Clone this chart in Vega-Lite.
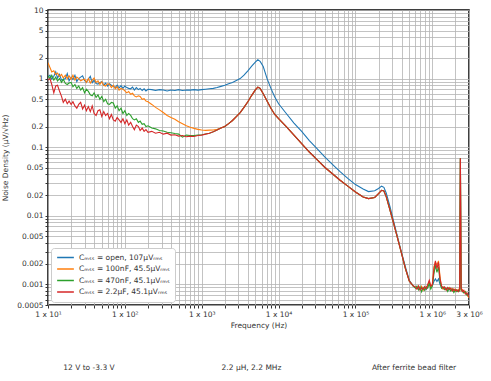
{
"$schema":"https://vega.github.io/schema/vega-lite/v6.json",
"width":421,"height":295,
"autosize":{"type":"none"},
"padding":{"left":48,"top":10,"right":22,"bottom":76},
"config":{"font":"DejaVu Sans","view":{"stroke":"black","strokeWidth":1.5}},
"datasets":{
"d":[
{"f":10,"v":1.05,"s":"o"},{"f":10.6,"v":1.12,"s":"o"},{"f":11.2,"v":0.98,"s":"o"},{"f":11.9,"v":1.08,"s":"o"},{"f":12.6,"v":1.25,"s":"o"},{"f":13.3,"v":1.02,"s":"o"},{"f":14.1,"v":1.15,"s":"o"},{"f":15,"v":0.95,"s":"o"},{"f":15.8,"v":0.97,"s":"o"},{"f":16.8,"v":1.0,"s":"o"},{"f":17.8,"v":1.18,"s":"o"},{"f":18.8,"v":0.93,"s":"o"},{"f":20,"v":1.05,"s":"o"},{"f":21.1,"v":0.97,"s":"o"},{"f":22.4,"v":1.12,"s":"o"},{"f":23.7,"v":0.9,"s":"o"},{"f":25.1,"v":1.0,"s":"o"},{"f":26.6,"v":1.05,"s":"o"},{"f":28.2,"v":1.1,"s":"o"},{"f":29.9,"v":0.94,"s":"o"},{"f":31.6,"v":0.88,"s":"o"},{"f":33.5,"v":0.98,"s":"o"},{"f":35.5,"v":1.08,"s":"o"},{"f":37.6,"v":0.87,"s":"o"},{"f":39.8,"v":0.95,"s":"o"},{"f":42.2,"v":0.85,"s":"o"},{"f":44.7,"v":0.83,"s":"o"},{"f":47.3,"v":0.88,"s":"o"},{"f":50.1,"v":0.9,"s":"o"},{"f":53.1,"v":0.8,"s":"o"},{"f":56.2,"v":0.86,"s":"o"},{"f":59.6,"v":0.78,"s":"o"},{"f":63.1,"v":0.84,"s":"o"},{"f":66.8,"v":0.8,"s":"o"},{"f":70.8,"v":0.77,"s":"o"},{"f":75,"v":0.74,"s":"o"},{"f":79.4,"v":0.8,"s":"o"},{"f":84.1,"v":0.73,"s":"o"},{"f":89.1,"v":0.79,"s":"o"},{"f":94.4,"v":0.72,"s":"o"},{"f":100,"v":0.78,"s":"o"},{"f":106,"v":0.74,"s":"o"},{"f":112,"v":0.72,"s":"o"},{"f":119,"v":0.71,"s":"o"},{"f":126,"v":0.75,"s":"o"},{"f":133,"v":0.68,"s":"o"},{"f":141,"v":0.74,"s":"o"},{"f":150,"v":0.69,"s":"o"},{"f":158,"v":0.72,"s":"o"},{"f":168,"v":0.67,"s":"o"},{"f":178,"v":0.71,"s":"o"},{"f":188,"v":0.66,"s":"o"},{"f":200,"v":0.7,"s":"o"},
{"f":224,"v":0.69,"s":"o"},{"f":251,"v":0.67,"s":"o"},{"f":282,"v":0.69,"s":"o"},{"f":316,"v":0.68,"s":"o"},{"f":355,"v":0.66,"s":"o"},{"f":398,"v":0.68,"s":"o"},{"f":447,"v":0.67,"s":"o"},{"f":501,"v":0.69,"s":"o"},{"f":562,"v":0.67,"s":"o"},{"f":631,"v":0.68,"s":"o"},{"f":708,"v":0.68,"s":"o"},{"f":794,"v":0.69,"s":"o"},{"f":891,"v":0.68,"s":"o"},{"f":1000,"v":0.69,"s":"o"},{"f":1122,"v":0.7,"s":"o"},{"f":1259,"v":0.71,"s":"o"},{"f":1413,"v":0.72,"s":"o"},{"f":1585,"v":0.74,"s":"o"},{"f":1778,"v":0.77,"s":"o"},{"f":1995,"v":0.8,"s":"o"},
{"f":2239,"v":0.84,"s":"o"},{"f":2512,"v":0.88,"s":"o"},{"f":2818,"v":0.94,"s":"o"},{"f":3162,"v":1.0,"s":"o"},{"f":3548,"v":1.12,"s":"o"},{"f":3981,"v":1.3,"s":"o"},{"f":4467,"v":1.52,"s":"o"},{"f":5012,"v":1.75,"s":"o"},{"f":5370,"v":1.88,"s":"o"},{"f":5754,"v":1.78,"s":"o"},{"f":6310,"v":1.5,"s":"o"},{"f":7079,"v":1.0,"s":"o"},{"f":7943,"v":0.72,"s":"o"},{"f":8913,"v":0.54,"s":"o"},{"f":10000,"v":0.43,"s":"o"},{"f":12589,"v":0.31,"s":"o"},{"f":15849,"v":0.225,"s":"o"},{"f":19953,"v":0.17,"s":"o"},{"f":25119,"v":0.125,"s":"o"},{"f":31623,"v":0.095,"s":"o"},{"f":39811,"v":0.072,"s":"o"},{"f":50119,"v":0.056,"s":"o"},{"f":63096,"v":0.044,"s":"o"},{"f":79433,"v":0.035,"s":"o"},{"f":100000,"v":0.0285,"s":"o"},{"f":125893,"v":0.0245,"s":"o"},{"f":147911,"v":0.0225,"s":"o"},{"f":177828,"v":0.0232,"s":"o"},{"f":199526,"v":0.025,"s":"o"},{"f":218776,"v":0.027,"s":"o"},{"f":234423,"v":0.026,"s":"o"},{"f":251189,"v":0.0215,"s":"o"},{"f":281838,"v":0.0135,"s":"o"},{"f":316228,"v":0.008,"s":"o"},{"f":354813,"v":0.0048,"s":"o"},{"f":398107,"v":0.0029,"s":"o"},{"f":446684,"v":0.0018,"s":"o"},{"f":501187,"v":0.00115,"s":"o"},{"f":562341,"v":0.00095,"s":"o"},
{"f":602560,"v":0.0009,"s":"o"},{"f":630957,"v":0.00087,"s":"o"},{"f":660693,"v":0.0009,"s":"o"},{"f":691831,"v":0.00085,"s":"o"},{"f":724436,"v":0.00088,"s":"o"},{"f":758578,"v":0.00086,"s":"o"},{"f":794328,"v":0.0009,"s":"o"},{"f":831764,"v":0.00084,"s":"o"},{"f":870964,"v":0.00094,"s":"o"},{"f":912011,"v":0.001,"s":"o"},{"f":954993,"v":0.00092,"s":"o"},{"f":1000000,"v":0.00095,"s":"o"},{"f":1047129,"v":0.0011,"s":"o"},{"f":1096478,"v":0.0012,"s":"o"},{"f":1148154,"v":0.0011,"s":"o"},{"f":1202264,"v":0.0012,"s":"o"},{"f":1258925,"v":0.001,"s":"o"},{"f":1318257,"v":0.0009,"s":"o"},{"f":1380384,"v":0.00086,"s":"o"},{"f":1445440,"v":0.0009,"s":"o"},{"f":1513561,"v":0.00084,"s":"o"},{"f":1584893,"v":0.00087,"s":"o"},{"f":1659587,"v":0.00083,"s":"o"},{"f":1737801,"v":0.00086,"s":"o"},{"f":1819701,"v":0.00082,"s":"o"},{"f":1905461,"v":0.00084,"s":"o"},{"f":1995262,"v":0.00081,"s":"o"},{"f":2089296,"v":0.00082,"s":"o"},{"f":2187762,"v":0.0008,"s":"o"},{"f":2264644,"v":0.00083,"s":"o"},{"f":2317395,"v":0.069,"s":"o"},{"f":2371374,"v":0.00084,"s":"o"},{"f":2454709,"v":0.0008,"s":"o"},{"f":2570396,"v":0.00078,"s":"o"},{"f":2691535,"v":0.00075,"s":"o"},{"f":2818383,"v":0.00072,"s":"o"},{"f":3000000,"v":0.00065,"s":"o"},

{"f":10,"v":1.7,"s":"a"},{"f":10.6,"v":1.45,"s":"a"},{"f":11.2,"v":1.25,"s":"a"},{"f":11.9,"v":1.3,"s":"a"},{"f":12.6,"v":1.15,"s":"a"},{"f":13.3,"v":1.2,"s":"a"},{"f":14.1,"v":1.08,"s":"a"},{"f":15,"v":1.15,"s":"a"},{"f":15.8,"v":1.02,"s":"a"},{"f":16.8,"v":1.12,"s":"a"},{"f":17.8,"v":1.0,"s":"a"},{"f":18.8,"v":1.1,"s":"a"},{"f":20,"v":0.98,"s":"a"},{"f":21.1,"v":1.12,"s":"a"},{"f":22.4,"v":0.95,"s":"a"},{"f":23.7,"v":1.05,"s":"a"},{"f":25.1,"v":1.0,"s":"a"},{"f":26.6,"v":0.93,"s":"a"},{"f":28.2,"v":0.96,"s":"a"},{"f":29.9,"v":0.98,"s":"a"},{"f":31.6,"v":0.88,"s":"a"},{"f":33.5,"v":1.0,"s":"a"},{"f":35.5,"v":0.86,"s":"a"},{"f":37.6,"v":0.95,"s":"a"},{"f":39.8,"v":1.02,"s":"a"},{"f":42.2,"v":0.88,"s":"a"},{"f":44.7,"v":0.93,"s":"a"},{"f":47.3,"v":0.82,"s":"a"},{"f":50.1,"v":0.9,"s":"a"},{"f":53.1,"v":0.8,"s":"a"},{"f":56.2,"v":0.78,"s":"a"},{"f":59.6,"v":0.84,"s":"a"},{"f":63.1,"v":0.83,"s":"a"},{"f":66.8,"v":0.74,"s":"a"},{"f":70.8,"v":0.8,"s":"a"},{"f":75,"v":0.71,"s":"a"},{"f":79.4,"v":0.76,"s":"a"},{"f":84.1,"v":0.68,"s":"a"},{"f":89.1,"v":0.72,"s":"a"},{"f":94.4,"v":0.7,"s":"a"},{"f":100,"v":0.66,"s":"a"},{"f":106,"v":0.62,"s":"a"},{"f":112,"v":0.65,"s":"a"},{"f":119,"v":0.59,"s":"a"},{"f":126,"v":0.61,"s":"a"},{"f":133,"v":0.56,"s":"a"},{"f":141,"v":0.54,"s":"a"},{"f":150,"v":0.56,"s":"a"},{"f":158,"v":0.55,"s":"a"},{"f":168,"v":0.5,"s":"a"},{"f":178,"v":0.51,"s":"a"},{"f":188,"v":0.47,"s":"a"},{"f":200,"v":0.46,"s":"a"},
{"f":224,"v":0.42,"s":"a"},{"f":251,"v":0.38,"s":"a"},{"f":282,"v":0.35,"s":"a"},{"f":316,"v":0.32,"s":"a"},{"f":355,"v":0.29,"s":"a"},{"f":398,"v":0.27,"s":"a"},{"f":447,"v":0.255,"s":"a"},{"f":501,"v":0.235,"s":"a"},{"f":562,"v":0.22,"s":"a"},{"f":631,"v":0.205,"s":"a"},{"f":708,"v":0.195,"s":"a"},{"f":794,"v":0.188,"s":"a"},{"f":891,"v":0.182,"s":"a"},{"f":1000,"v":0.178,"s":"a"},{"f":1122,"v":0.176,"s":"a"},{"f":1259,"v":0.177,"s":"a"},{"f":1413,"v":0.178,"s":"a"},{"f":1585,"v":0.182,"s":"a"},{"f":1778,"v":0.19,"s":"a"},{"f":1995,"v":0.2,"s":"a"},
{"f":2239,"v":0.22,"s":"a"},{"f":2512,"v":0.245,"s":"a"},{"f":2818,"v":0.28,"s":"a"},{"f":3162,"v":0.32,"s":"a"},{"f":3548,"v":0.38,"s":"a"},{"f":3981,"v":0.46,"s":"a"},{"f":4467,"v":0.57,"s":"a"},{"f":5012,"v":0.69,"s":"a"},{"f":5370,"v":0.75,"s":"a"},{"f":5754,"v":0.72,"s":"a"},{"f":6310,"v":0.6,"s":"a"},{"f":7079,"v":0.47,"s":"a"},{"f":7943,"v":0.37,"s":"a"},{"f":8913,"v":0.3,"s":"a"},{"f":10000,"v":0.26,"s":"a"},{"f":12589,"v":0.2,"s":"a"},{"f":15849,"v":0.15,"s":"a"},{"f":19953,"v":0.113,"s":"a"},{"f":25119,"v":0.085,"s":"a"},{"f":31623,"v":0.066,"s":"a"},{"f":39811,"v":0.051,"s":"a"},{"f":50119,"v":0.041,"s":"a"},{"f":63096,"v":0.033,"s":"a"},{"f":79433,"v":0.027,"s":"a"},{"f":100000,"v":0.0222,"s":"a"},{"f":125893,"v":0.0188,"s":"a"},{"f":147911,"v":0.0178,"s":"a"},{"f":177828,"v":0.0185,"s":"a"},{"f":199526,"v":0.021,"s":"a"},{"f":218776,"v":0.0235,"s":"a"},{"f":234423,"v":0.023,"s":"a"},{"f":251189,"v":0.019,"s":"a"},{"f":281838,"v":0.012,"s":"a"},{"f":316228,"v":0.0075,"s":"a"},{"f":354813,"v":0.0046,"s":"a"},{"f":398107,"v":0.0028,"s":"a"},{"f":446684,"v":0.0017,"s":"a"},{"f":501187,"v":0.00112,"s":"a"},{"f":562341,"v":0.00095,"s":"a"},
{"f":602560,"v":0.0009,"s":"a"},{"f":630957,"v":0.00088,"s":"a"},{"f":660693,"v":0.00092,"s":"a"},{"f":691831,"v":0.00086,"s":"a"},{"f":724436,"v":0.00094,"s":"a"},{"f":758578,"v":0.00082,"s":"a"},{"f":794328,"v":0.00088,"s":"a"},{"f":831764,"v":0.0009,"s":"a"},{"f":870964,"v":0.00095,"s":"a"},{"f":912011,"v":0.0011,"s":"a"},{"f":954993,"v":0.0009,"s":"a"},{"f":1000000,"v":0.001,"s":"a"},{"f":1047129,"v":0.0018,"s":"a"},{"f":1096478,"v":0.0021,"s":"a"},{"f":1148154,"v":0.0019,"s":"a"},{"f":1202264,"v":0.0022,"s":"a"},{"f":1258925,"v":0.0013,"s":"a"},{"f":1318257,"v":0.0009,"s":"a"},{"f":1380384,"v":0.00085,"s":"a"},{"f":1445440,"v":0.0009,"s":"a"},{"f":1513561,"v":0.00086,"s":"a"},{"f":1584893,"v":0.00083,"s":"a"},{"f":1659587,"v":0.0009,"s":"a"},{"f":1737801,"v":0.00082,"s":"a"},{"f":1819701,"v":0.00087,"s":"a"},{"f":1905461,"v":0.0008,"s":"a"},{"f":1995262,"v":0.00085,"s":"a"},{"f":2089296,"v":0.00079,"s":"a"},{"f":2187762,"v":0.00083,"s":"a"},{"f":2264644,"v":0.00088,"s":"a"},{"f":2317395,"v":0.069,"s":"a"},{"f":2371374,"v":0.00082,"s":"a"},{"f":2454709,"v":0.00084,"s":"a"},{"f":2570396,"v":0.00076,"s":"a"},{"f":2691535,"v":0.00079,"s":"a"},{"f":2818383,"v":0.0007,"s":"a"},{"f":3000000,"v":0.00064,"s":"a"},

{"f":10,"v":1.1,"s":"b"},{"f":10.6,"v":1.0,"s":"b"},{"f":11.2,"v":1.12,"s":"b"},{"f":11.9,"v":0.95,"s":"b"},{"f":12.6,"v":1.05,"s":"b"},{"f":13.3,"v":0.92,"s":"b"},{"f":14.1,"v":1.0,"s":"b"},{"f":15,"v":0.88,"s":"b"},{"f":15.8,"v":0.98,"s":"b"},{"f":16.8,"v":0.85,"s":"b"},{"f":17.8,"v":0.82,"s":"b"},{"f":18.8,"v":0.86,"s":"b"},{"f":20,"v":0.88,"s":"b"},{"f":21.1,"v":0.76,"s":"b"},{"f":22.4,"v":0.82,"s":"b"},{"f":23.7,"v":0.72,"s":"b"},{"f":25.1,"v":0.78,"s":"b"},{"f":26.6,"v":0.68,"s":"b"},{"f":28.2,"v":0.74,"s":"b"},{"f":29.9,"v":0.62,"s":"b"},{"f":31.6,"v":0.7,"s":"b"},{"f":33.5,"v":0.65,"s":"b"},{"f":35.5,"v":0.58,"s":"b"},{"f":37.6,"v":0.56,"s":"b"},{"f":39.8,"v":0.62,"s":"b"},{"f":42.2,"v":0.53,"s":"b"},{"f":44.7,"v":0.58,"s":"b"},{"f":47.3,"v":0.5,"s":"b"},{"f":50.1,"v":0.55,"s":"b"},{"f":53.1,"v":0.46,"s":"b"},{"f":56.2,"v":0.5,"s":"b"},{"f":59.6,"v":0.43,"s":"b"},{"f":63.1,"v":0.42,"s":"b"},{"f":66.8,"v":0.45,"s":"b"},{"f":70.8,"v":0.44,"s":"b"},{"f":75,"v":0.37,"s":"b"},{"f":79.4,"v":0.4,"s":"b"},{"f":84.1,"v":0.34,"s":"b"},{"f":89.1,"v":0.37,"s":"b"},{"f":94.4,"v":0.31,"s":"b"},{"f":100,"v":0.34,"s":"b"},{"f":106,"v":0.29,"s":"b"},{"f":112,"v":0.31,"s":"b"},{"f":119,"v":0.29,"s":"b"},{"f":126,"v":0.26,"s":"b"},{"f":133,"v":0.25,"s":"b"},{"f":141,"v":0.26,"s":"b"},{"f":150,"v":0.23,"s":"b"},{"f":158,"v":0.24,"s":"b"},{"f":168,"v":0.215,"s":"b"},{"f":178,"v":0.22,"s":"b"},{"f":188,"v":0.2,"s":"b"},{"f":200,"v":0.205,"s":"b"},
{"f":224,"v":0.19,"s":"b"},{"f":251,"v":0.185,"s":"b"},{"f":282,"v":0.175,"s":"b"},{"f":316,"v":0.172,"s":"b"},{"f":355,"v":0.165,"s":"b"},{"f":398,"v":0.162,"s":"b"},{"f":447,"v":0.158,"s":"b"},{"f":501,"v":0.155,"s":"b"},{"f":562,"v":0.14,"s":"b"},{"f":631,"v":0.15,"s":"b"},{"f":708,"v":0.148,"s":"b"},{"f":794,"v":0.148,"s":"b"},{"f":891,"v":0.15,"s":"b"},{"f":1000,"v":0.152,"s":"b"},{"f":1122,"v":0.156,"s":"b"},{"f":1259,"v":0.16,"s":"b"},{"f":1413,"v":0.168,"s":"b"},{"f":1585,"v":0.178,"s":"b"},{"f":1778,"v":0.19,"s":"b"},{"f":1995,"v":0.2,"s":"b"},
{"f":2239,"v":0.22,"s":"b"},{"f":2512,"v":0.245,"s":"b"},{"f":2818,"v":0.28,"s":"b"},{"f":3162,"v":0.32,"s":"b"},{"f":3548,"v":0.38,"s":"b"},{"f":3981,"v":0.46,"s":"b"},{"f":4467,"v":0.57,"s":"b"},{"f":5012,"v":0.69,"s":"b"},{"f":5370,"v":0.75,"s":"b"},{"f":5754,"v":0.72,"s":"b"},{"f":6310,"v":0.6,"s":"b"},{"f":7079,"v":0.47,"s":"b"},{"f":7943,"v":0.37,"s":"b"},{"f":8913,"v":0.3,"s":"b"},{"f":10000,"v":0.26,"s":"b"},{"f":12589,"v":0.2,"s":"b"},{"f":15849,"v":0.15,"s":"b"},{"f":19953,"v":0.113,"s":"b"},{"f":25119,"v":0.085,"s":"b"},{"f":31623,"v":0.066,"s":"b"},{"f":39811,"v":0.051,"s":"b"},{"f":50119,"v":0.041,"s":"b"},{"f":63096,"v":0.033,"s":"b"},{"f":79433,"v":0.027,"s":"b"},{"f":100000,"v":0.0222,"s":"b"},{"f":125893,"v":0.0188,"s":"b"},{"f":147911,"v":0.0178,"s":"b"},{"f":177828,"v":0.0185,"s":"b"},{"f":199526,"v":0.021,"s":"b"},{"f":218776,"v":0.0235,"s":"b"},{"f":234423,"v":0.023,"s":"b"},{"f":251189,"v":0.019,"s":"b"},{"f":281838,"v":0.012,"s":"b"},{"f":316228,"v":0.0075,"s":"b"},{"f":354813,"v":0.0046,"s":"b"},{"f":398107,"v":0.0028,"s":"b"},{"f":446684,"v":0.0017,"s":"b"},{"f":501187,"v":0.00112,"s":"b"},{"f":562341,"v":0.00095,"s":"b"},
{"f":602560,"v":0.00088,"s":"b"},{"f":630957,"v":0.00094,"s":"b"},{"f":660693,"v":0.00083,"s":"b"},{"f":691831,"v":0.00092,"s":"b"},{"f":724436,"v":0.00078,"s":"b"},{"f":758578,"v":0.0009,"s":"b"},{"f":794328,"v":0.00082,"s":"b"},{"f":831764,"v":0.00092,"s":"b"},{"f":870964,"v":0.00088,"s":"b"},{"f":912011,"v":0.00105,"s":"b"},{"f":954993,"v":0.00085,"s":"b"},{"f":1000000,"v":0.00095,"s":"b"},{"f":1047129,"v":0.0014,"s":"b"},{"f":1096478,"v":0.0019,"s":"b"},{"f":1148154,"v":0.0015,"s":"b"},{"f":1202264,"v":0.0018,"s":"b"},{"f":1258925,"v":0.0011,"s":"b"},{"f":1318257,"v":0.00088,"s":"b"},{"f":1380384,"v":0.00092,"s":"b"},{"f":1445440,"v":0.00084,"s":"b"},{"f":1513561,"v":0.00088,"s":"b"},{"f":1584893,"v":0.00079,"s":"b"},{"f":1659587,"v":0.00088,"s":"b"},{"f":1737801,"v":0.0008,"s":"b"},{"f":1819701,"v":0.00085,"s":"b"},{"f":1905461,"v":0.00076,"s":"b"},{"f":1995262,"v":0.00083,"s":"b"},{"f":2089296,"v":0.00078,"s":"b"},{"f":2187762,"v":0.00082,"s":"b"},{"f":2264644,"v":0.0008,"s":"b"},{"f":2317395,"v":0.069,"s":"b"},{"f":2371374,"v":0.00085,"s":"b"},{"f":2454709,"v":0.0008,"s":"b"},{"f":2570396,"v":0.00075,"s":"b"},{"f":2691535,"v":0.00078,"s":"b"},{"f":2818383,"v":0.0007,"s":"b"},{"f":3000000,"v":0.00068,"s":"b"},

{"f":10,"v":0.95,"s":"c"},{"f":10.6,"v":1.0,"s":"c"},{"f":11.2,"v":0.82,"s":"c"},{"f":11.9,"v":0.62,"s":"c"},{"f":12.6,"v":0.78,"s":"c"},{"f":13.3,"v":0.8,"s":"c"},{"f":14.1,"v":0.66,"s":"c"},{"f":15,"v":0.55,"s":"c"},{"f":15.8,"v":0.45,"s":"c"},{"f":16.8,"v":0.5,"s":"c"},{"f":17.8,"v":0.43,"s":"c"},{"f":18.8,"v":0.47,"s":"c"},{"f":20,"v":0.42,"s":"c"},{"f":21.1,"v":0.46,"s":"c"},{"f":22.4,"v":0.4,"s":"c"},{"f":23.7,"v":0.37,"s":"c"},{"f":25.1,"v":0.42,"s":"c"},{"f":26.6,"v":0.45,"s":"c"},{"f":28.2,"v":0.36,"s":"c"},{"f":29.9,"v":0.41,"s":"c"},{"f":31.6,"v":0.34,"s":"c"},{"f":33.5,"v":0.39,"s":"c"},{"f":35.5,"v":0.33,"s":"c"},{"f":37.6,"v":0.4,"s":"c"},{"f":39.8,"v":0.31,"s":"c"},{"f":42.2,"v":0.29,"s":"c"},{"f":44.7,"v":0.34,"s":"c"},{"f":47.3,"v":0.35,"s":"c"},{"f":50.1,"v":0.28,"s":"c"},{"f":53.1,"v":0.33,"s":"c"},{"f":56.2,"v":0.29,"s":"c"},{"f":59.6,"v":0.31,"s":"c"},{"f":63.1,"v":0.26,"s":"c"},{"f":66.8,"v":0.3,"s":"c"},{"f":70.8,"v":0.25,"s":"c"},{"f":75,"v":0.24,"s":"c"},{"f":79.4,"v":0.27,"s":"c"},{"f":84.1,"v":0.25,"s":"c"},{"f":89.1,"v":0.23,"s":"c"},{"f":94.4,"v":0.26,"s":"c"},{"f":100,"v":0.22,"s":"c"},{"f":106,"v":0.25,"s":"c"},{"f":112,"v":0.21,"s":"c"},{"f":119,"v":0.23,"s":"c"},{"f":126,"v":0.2,"s":"c"},{"f":133,"v":0.18,"s":"c"},{"f":141,"v":0.21,"s":"c"},{"f":150,"v":0.2,"s":"c"},{"f":158,"v":0.175,"s":"c"},{"f":168,"v":0.19,"s":"c"},{"f":178,"v":0.17,"s":"c"},{"f":188,"v":0.18,"s":"c"},{"f":200,"v":0.165,"s":"c"},
{"f":224,"v":0.17,"s":"c"},{"f":251,"v":0.16,"s":"c"},{"f":282,"v":0.165,"s":"c"},{"f":316,"v":0.155,"s":"c"},{"f":355,"v":0.16,"s":"c"},{"f":398,"v":0.15,"s":"c"},{"f":447,"v":0.152,"s":"c"},{"f":501,"v":0.145,"s":"c"},{"f":562,"v":0.148,"s":"c"},{"f":631,"v":0.142,"s":"c"},{"f":708,"v":0.145,"s":"c"},{"f":794,"v":0.143,"s":"c"},{"f":891,"v":0.148,"s":"c"},{"f":1000,"v":0.15,"s":"c"},{"f":1122,"v":0.155,"s":"c"},{"f":1259,"v":0.16,"s":"c"},{"f":1413,"v":0.168,"s":"c"},{"f":1585,"v":0.178,"s":"c"},{"f":1778,"v":0.19,"s":"c"},{"f":1995,"v":0.2,"s":"c"},
{"f":2239,"v":0.22,"s":"c"},{"f":2512,"v":0.245,"s":"c"},{"f":2818,"v":0.28,"s":"c"},{"f":3162,"v":0.32,"s":"c"},{"f":3548,"v":0.38,"s":"c"},{"f":3981,"v":0.46,"s":"c"},{"f":4467,"v":0.57,"s":"c"},{"f":5012,"v":0.69,"s":"c"},{"f":5370,"v":0.75,"s":"c"},{"f":5754,"v":0.72,"s":"c"},{"f":6310,"v":0.6,"s":"c"},{"f":7079,"v":0.47,"s":"c"},{"f":7943,"v":0.37,"s":"c"},{"f":8913,"v":0.3,"s":"c"},{"f":10000,"v":0.26,"s":"c"},{"f":12589,"v":0.2,"s":"c"},{"f":15849,"v":0.15,"s":"c"},{"f":19953,"v":0.113,"s":"c"},{"f":25119,"v":0.085,"s":"c"},{"f":31623,"v":0.066,"s":"c"},{"f":39811,"v":0.051,"s":"c"},{"f":50119,"v":0.041,"s":"c"},{"f":63096,"v":0.033,"s":"c"},{"f":79433,"v":0.027,"s":"c"},{"f":100000,"v":0.0222,"s":"c"},{"f":125893,"v":0.0188,"s":"c"},{"f":147911,"v":0.0178,"s":"c"},{"f":177828,"v":0.0185,"s":"c"},{"f":199526,"v":0.021,"s":"c"},{"f":218776,"v":0.0235,"s":"c"},{"f":234423,"v":0.023,"s":"c"},{"f":251189,"v":0.019,"s":"c"},{"f":281838,"v":0.012,"s":"c"},{"f":316228,"v":0.0075,"s":"c"},{"f":354813,"v":0.0046,"s":"c"},{"f":398107,"v":0.0028,"s":"c"},{"f":446684,"v":0.0017,"s":"c"},{"f":501187,"v":0.00112,"s":"c"},{"f":562341,"v":0.00095,"s":"c"},
{"f":602560,"v":0.00092,"s":"c"},{"f":630957,"v":0.00085,"s":"c"},{"f":660693,"v":0.00095,"s":"c"},{"f":691831,"v":0.00082,"s":"c"},{"f":724436,"v":0.0009,"s":"c"},{"f":758578,"v":0.00084,"s":"c"},{"f":794328,"v":0.00093,"s":"c"},{"f":831764,"v":0.00086,"s":"c"},{"f":870964,"v":0.001,"s":"c"},{"f":912011,"v":0.00115,"s":"c"},{"f":954993,"v":0.00095,"s":"c"},{"f":1000000,"v":0.00098,"s":"c"},{"f":1047129,"v":0.0016,"s":"c"},{"f":1096478,"v":0.0022,"s":"c"},{"f":1148154,"v":0.0017,"s":"c"},{"f":1202264,"v":0.0021,"s":"c"},{"f":1258925,"v":0.0012,"s":"c"},{"f":1318257,"v":0.00095,"s":"c"},{"f":1380384,"v":0.00088,"s":"c"},{"f":1445440,"v":0.00092,"s":"c"},{"f":1513561,"v":0.00082,"s":"c"},{"f":1584893,"v":0.0009,"s":"c"},{"f":1659587,"v":0.00085,"s":"c"},{"f":1737801,"v":0.00088,"s":"c"},{"f":1819701,"v":0.0008,"s":"c"},{"f":1905461,"v":0.00086,"s":"c"},{"f":1995262,"v":0.0008,"s":"c"},{"f":2089296,"v":0.00084,"s":"c"},{"f":2187762,"v":0.00078,"s":"c"},{"f":2264644,"v":0.00085,"s":"c"},{"f":2317395,"v":0.069,"s":"c"},{"f":2371374,"v":0.0009,"s":"c"},{"f":2454709,"v":0.00078,"s":"c"},{"f":2570396,"v":0.00082,"s":"c"},{"f":2691535,"v":0.00072,"s":"c"},{"f":2818383,"v":0.00075,"s":"c"},{"f":3000000,"v":0.00066,"s":"c"}
],
"foot":[{"t":"12 V to -3.3 V"},{"t":"2.2 µH, 2.2 MHz"},{"t":"After ferrite bead filter"}]
},
"layer":[
{"data":{"name":"d"},
 "mark":{"type":"line","strokeWidth":1.1,"clip":true},
 "encoding":{
  "x":{"field":"f","type":"quantitative","scale":{"type":"log","domain":[10,3000000]},
   "axis":{"title":"Frequency (Hz)","values":[10,20,30,40,50,60,70,80,90,100,200,300,400,500,600,700,800,900,1000,2000,3000,4000,5000,6000,7000,8000,9000,10000,20000,30000,40000,50000,60000,70000,80000,90000,100000,200000,300000,400000,500000,600000,700000,800000,900000,1000000,2000000,3000000],
    "labelExpr":"datum.value==10?'1 x 10¹':datum.value==100?'1 x 10²':datum.value==1000?'1 x 10³':datum.value==10000?'1 x 10⁴':datum.value==100000?'1 x 10⁵':datum.value==1000000?'1 x 10⁶':datum.value==3000000?'3 x 10⁶':''",
    "grid":true,"gridColor":"#b4b4b4","gridWidth":0.8,"domain":false,"tickColor":"#333","tickSize":3,"labelFontSize":7.5,"labelColor":"#333","labelPadding":2,"labelOverlap":false,"labelFlush":false,"titleFontSize":7.5,"titleFontWeight":"normal","titleColor":"#333","titlePadding":4}},
  "y":{"field":"v","type":"quantitative","scale":{"type":"log","domain":[0.0005,10]},
   "axis":{"title":"Noise Density (µV/√Hz)","values":[0.0005,0.0006,0.0007,0.0008,0.0009,0.001,0.002,0.003,0.004,0.005,0.006,0.007,0.008,0.009,0.01,0.02,0.03,0.04,0.05,0.06,0.07,0.08,0.09,0.1,0.2,0.3,0.4,0.5,0.6,0.7,0.8,0.9,1,2,3,4,5,6,7,8,9,10],
    "format":"~g",
    "labelExpr":"indexof([0.0005,0.001,0.002,0.005,0.01,0.02,0.05,0.1,0.2,0.5,1,2,5,10],datum.value)>=0?datum.label:''",
    "grid":true,"gridColor":"#b4b4b4","gridWidth":0.8,"domain":false,"tickColor":"#333","tickSize":3,"labelFontSize":7.5,"labelColor":"#333","labelPadding":2,"labelOverlap":false,"labelFlush":false,"titleFontSize":7.5,"titleFontWeight":"normal","titleColor":"#333","titlePadding":7}},
  "color":{"field":"s","type":"nominal","sort":["o","a","b","c"],
   "scale":{"domain":["o","a","b","c"],"range":["#1f77b4","#ff7f0e","#2ca02c","#d62728"]},
   "legend":{"title":null,"orient":"bottom-left","offset":3,"fillColor":"white","strokeColor":"#cccccc","padding":5,"cornerRadius":3,"symbolType":"stroke","symbolSize":280,"symbolStrokeWidth":1.5,"clipHeight":9,"labelFontSize":7.5,"labelColor":"#333","rowPadding":2.5,
    "labelExpr":"datum.label=='o'?'Cₘₛₛ = open, 107µVᵣₘₛ':datum.label=='a'?'Cₘₛₛ = 100nF, 45.5µVᵣₘₛ':datum.label=='b'?'Cₘₛₛ = 470nF, 45.1µVᵣₘₛ':'Cₘₛₛ = 2.2µF, 45.1µVᵣₘₛ'"}}
 }},
{"data":{"name":"foot"},
 "mark":{"type":"text","fontSize":7.5,"color":"#333"},
 "encoding":{
  "x":{"field":"t","type":"nominal","sort":null,"scale":{"type":"point","padding":0.295,"align":0.427},"axis":null},
  "y":{"datum":0.00006,"type":"quantitative","scale":{"type":"log","domain":[0.0005,10]},"axis":null},
  "text":{"field":"t"}
 }}
],
"resolve":{"scale":{"x":"independent","y":"independent"}}
}
